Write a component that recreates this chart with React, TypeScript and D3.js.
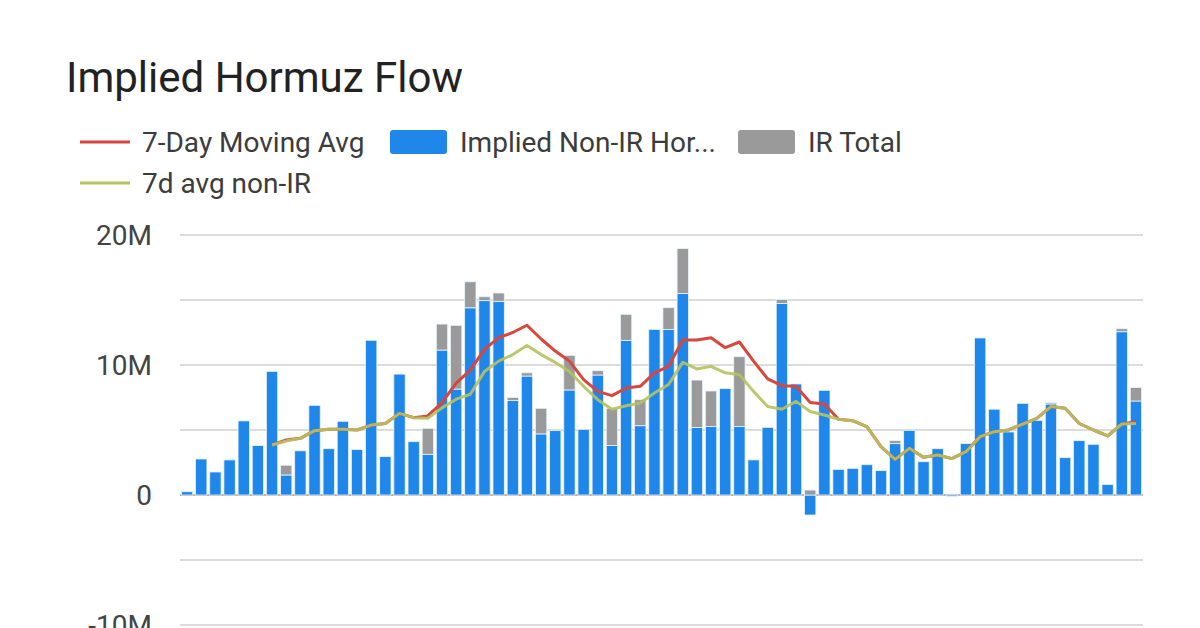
import React, { useEffect, useRef } from 'react'
import * as d3 from 'd3'

// values in millions, one entry per day
const nonIR = [
  0.25, 2.77, 1.77, 2.7, 5.7, 3.8, 9.5, 1.54, 3.4, 6.9, 3.56, 5.67, 3.5, 11.9, 2.95, 9.3, 4.1,
  3.13, 11.15, 8.15, 14.4, 14.95, 14.9, 7.26, 9.15, 4.7, 4.95, 8.08, 5.05, 9.23, 3.8, 11.9, 5.33,
  12.74, 12.74, 15.5, 5.2, 5.26, 8.18, 5.26, 2.7, 5.2, 14.74, 8.54, -1.54, 8.05, 1.97, 2.05, 2.33,
  1.87, 3.95, 4.97, 2.56, 3.56, -0.1, 3.95, 12.08, 6.6, 4.85, 7.05, 5.74, 7.0, 2.87, 4.18, 3.9,
  0.8, 12.56, 7.23,
]
const irTotal = [
  0, 0, 0, 0, 0, 0, 0, 0.75, 0, 0, 0, 0, 0, 0, 0, 0, 0,
  2.0, 2.0, 4.9, 2.0, 0.3, 0.64, 0.25, 0.25, 1.97, 0, 2.66, 0, 0.33, 2.87, 2.0, 2.0,
  0, 1.67, 3.46, 3.64, 2.74, 0, 5.38, 0, 0, 0.3, 0, 0.38, 0, 0, 0, 0,
  0, 0.23, 0, 0, 0, 0, 0, 0, 0, 0, 0, 0, 0.1, 0, 0, 0,
  0, 0.23, 1.03,
]
const ma7 = [
  null, null, null, null, null, null, 3.85, 4.23, 4.36, 4.95, 5.05, 5.05, 5.0, 5.38, 5.5, 6.28, 5.95,
  6.08, 7.1, 8.6, 9.6, 11.2, 12.1, 12.5, 13.06, 12.0, 11.07, 10.3, 8.88, 7.97, 7.64, 8.23, 8.36,
  9.4, 9.9, 11.92, 11.92, 12.1, 11.33, 11.77, 10.3, 8.93, 8.41, 8.36, 7.12, 7.0, 5.83, 5.72, 5.26,
  3.72, 2.74, 3.59, 2.9, 3.08, 2.8, 3.33, 4.49, 4.87, 5.0, 5.46, 5.9, 6.8, 6.67, 5.5, 5.0,
  4.54, 5.46, 5.64,
]
const ma7NonIR = [
  null, null, null, null, null, null, 3.85, 4.15, 4.36, 4.95, 5.05, 5.05, 5.0, 5.38, 5.5, 6.28, 5.95,
  5.9, 6.7, 7.37, 7.75, 9.5, 10.3, 10.8, 11.5, 10.8, 10.2, 9.5, 8.36, 7.33, 6.6, 6.86, 7.07,
  7.84, 8.5, 10.2, 9.7, 9.9, 9.4, 9.26, 7.97, 6.8, 6.6, 7.2, 6.42, 6.15, 5.83, 5.72, 5.26,
  3.72, 2.74, 3.59, 2.9, 3.08, 2.8, 3.33, 4.49, 4.87, 5.0, 5.46, 5.9, 6.8, 6.67, 5.5, 5.0,
  4.54, 5.46, 5.5,
]
const yTicks = [-10, 0, 10, 20]
const yGrid = [-10, -5, 0, 5, 10, 15, 20]

const BLUE = '#1f86ea'
const GRAY = '#9a9a9a'
const RED = '#d8463e'
const GREEN = '#b6c25e'

const App: React.FC = () => {
  const ref = useRef<SVGSVGElement>(null)

  useEffect(() => {
    const svg = d3.select(ref.current)
    svg.selectAll('*').remove()

    const left = 180
    const right = 1143
    const x = d3
      .scaleBand<number>()
      .domain(d3.range(nonIR.length))
      .range([left, right])
      .paddingInner(0.2)
      .paddingOuter(0.1)
    const y = d3.scaleLinear().domain([-10, 20]).range([625, 235])

    const font = 'Roboto, "Noto Sans", sans-serif'

    // title
    svg
      .append('text')
      .attr('x', 66)
      .attr('y', 92)
      .attr('font-family', font)
      .attr('font-size', 42)
      .attr('fill', '#222')
      .text('Implied Hormuz Flow')

    // legend
    const lg = svg.append('g').attr('font-family', font).attr('font-size', 28).attr('fill', '#3c3c3c')
    const lineItem = (lx: number, ly: number, color: string, label: string) => {
      lg.append('line')
        .attr('x1', lx)
        .attr('x2', lx + 50)
        .attr('y1', ly)
        .attr('y2', ly)
        .attr('stroke', color)
        .attr('stroke-width', 3)
      lg.append('text')
        .attr('x', lx + 62)
        .attr('y', ly)
        .attr('dy', '0.35em')
        .text(label)
    }
    const boxItem = (lx: number, ly: number, color: string, label: string) => {
      lg.append('rect')
        .attr('x', lx)
        .attr('y', ly - 12)
        .attr('width', 57)
        .attr('height', 24)
        .attr('rx', 3)
        .attr('fill', color)
      lg.append('text')
        .attr('x', lx + 70)
        .attr('y', ly)
        .attr('dy', '0.35em')
        .text(label)
    }
    lineItem(80, 142, RED, '7-Day Moving Avg')
    boxItem(390, 142, BLUE, 'Implied Non-IR Hor...')
    boxItem(738, 142, GRAY, 'IR Total')
    lineItem(80, 183, GREEN, '7d avg non-IR')

    // grid
    svg
      .append('g')
      .selectAll('line')
      .data(yGrid)
      .enter()
      .append('line')
      .attr('x1', left)
      .attr('x2', right)
      .attr('y1', (d) => y(d))
      .attr('y2', (d) => y(d))
      .attr('stroke', (d) => (d === 0 ? '#9e9e9e' : '#d0d0d0'))
      .attr('stroke-width', (d) => (d === 0 ? 1.6 : 1.3))

    svg
      .append('g')
      .attr('font-family', font)
      .attr('font-size', 28)
      .attr('fill', '#444')
      .attr('text-anchor', 'end')
      .selectAll('text')
      .data(yTicks)
      .enter()
      .append('text')
      .attr('x', 152)
      .attr('y', (d) => y(d))
      .attr('dy', '0.35em')
      .text((d) => (d === 0 ? '0' : `${d}M`))

    // stacked bars
    const rows = nonIR.map((v, i) => ({ i, nonIR: v, ir: irTotal[i] }))
    const series = d3
      .stack<{ i: number; nonIR: number; ir: number }>()
      .keys(['nonIR', 'ir'])
      .offset(d3.stackOffsetDiverging)(rows as any)
    const colors = [BLUE, GRAY]

    svg
      .append('g')
      .selectAll('g')
      .data(series)
      .enter()
      .append('g')
      .attr('fill', (_, k) => colors[k])
      .selectAll('rect')
      .data((s) => s.filter((d) => d[1] !== d[0]))
      .enter()
      .append('rect')
      .attr('x', (d) => x(d.data.i)!)
      .attr('width', x.bandwidth())
      .attr('y', (d) => y(Math.max(d[0], d[1])))
      .attr('height', (d) => Math.abs(y(d[0]) - y(d[1])))
      .attr('stroke', '#e8f3ff')
      .attr('stroke-width', 0.8)

    // moving averages
    const line = d3
      .line<number | null>()
      .defined((d) => d !== null)
      .x((_, i) => x(i)! + x.bandwidth() / 2)
      .y((d) => y(d as number))

    svg
      .append('path')
      .datum(ma7)
      .attr('d', line)
      .attr('fill', 'none')
      .attr('stroke', RED)
      .attr('stroke-width', 3)
      .attr('stroke-linejoin', 'round')

    svg
      .append('path')
      .datum(ma7NonIR)
      .attr('d', line)
      .attr('fill', 'none')
      .attr('stroke', GREEN)
      .attr('stroke-width', 3)
      .attr('stroke-linejoin', 'round')
      .attr('opacity', 0.9)
  }, [])

  return (
    <svg
      ref={ref}
      width={1200}
      height={628}
      style={{ position: 'absolute', top: 0, left: 0, background: '#fff' }}
    />
  )
}

export default App
